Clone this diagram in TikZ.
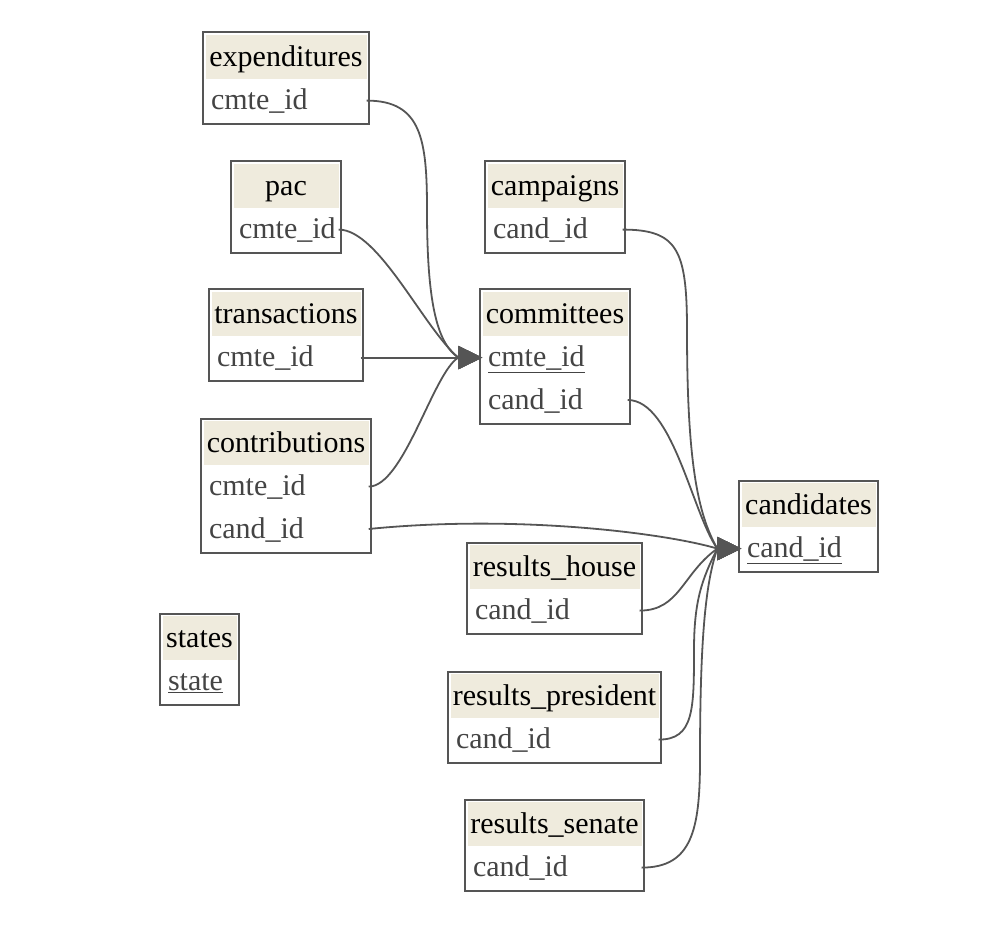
\documentclass[tikz,border=0pt]{standalone}
\usepackage{fontspec}
\setmainfont{Liberation Serif}
\usetikzlibrary{arrows.meta,positioning,fit,calc}
\definecolor{hdrbg}{HTML}{EFEBDD}
\definecolor{edgegray}{HTML}{555555}
\definecolor{fldtext}{HTML}{444444}

% header row of one table: name, left, top, width, title
\newcommand{\dbtable}[5]{%
  \pgfmathsetmacro{\tblw}{#4-5}%
  \pgfmathsetmacro{\fldw}{#4-16}%
  \pgfmathsetmacro{\tblx}{#2+#4/2}%
  \pgfmathsetmacro{\tbly}{#3+2}%
  \node[hdr, minimum width=\tblw pt, anchor=north] (#1) at (\tblx,\tbly) {#5};}

\begin{document}
\begin{tikzpicture}[x=1pt,y=-1pt,
  hdr/.style={fill=hdrbg, text=black, minimum height=44pt, inner sep=0pt,
    text height=24pt, text depth=6pt, font=\fontsize{30}{36}\selectfont},
  fld/.style={text=fldtext, text width=\fldw pt, align=left, minimum height=42pt,
    inner xsep=5.5pt, inner ysep=0pt, text height=24pt, text depth=6pt,
    font=\fontsize{30}{36}\selectfont},
  frame/.style={draw=edgegray, line width=2pt, inner sep=2.5pt},
  fk/.style={draw=edgegray, line width=1.8pt, -{Triangle[length=24pt,width=23pt]}}]
  \useasboundingbox (0,0) rectangle (985,925);

  % tables on the left
  \dbtable{exp}{203}{33}{166}{expenditures}
  \node[fld, below=0pt of exp] (exp-cmte) {cmte\_id};
  \node[frame, fit=(exp)(exp-cmte)] (exp-box) {};

  \dbtable{pac}{231}{162}{110}{pac}
  \node[fld, below=0pt of pac] (pac-cmte) {cmte\_id};
  \node[frame, fit=(pac)(pac-cmte)] (pac-box) {};

  \dbtable{trans}{209}{290}{154}{transactions}
  \node[fld, below=0pt of trans] (trans-cmte) {cmte\_id};
  \node[frame, fit=(trans)(trans-cmte)] (trans-box) {};

  \dbtable{contrib}{201}{419}{170}{contributions}
  \node[fld, below=0pt of contrib] (contrib-cmte) {cmte\_id};
  \node[fld, below=0pt of contrib-cmte] (contrib-cand) {cand\_id};
  \node[frame, fit=(contrib)(contrib-cand)] (contrib-box) {};

  \dbtable{states}{160}{614}{79}{states}
  \node[fld, below=0pt of states] (states-state) {\underline{state}};
  \node[frame, fit=(states)(states-state)] (states-box) {};

  % tables in the middle
  \dbtable{camp}{485}{162}{140}{campaigns}
  \node[fld, below=0pt of camp] (camp-cand) {cand\_id};
  \node[frame, fit=(camp)(camp-cand)] (camp-box) {};

  \dbtable{com}{480}{290}{150}{committees}
  \node[fld, below=0pt of com] (com-cmte) {\underline{cmte\_id}};
  \node[fld, below=0pt of com-cmte] (com-cand) {cand\_id};
  \node[frame, fit=(com)(com-cand)] (com-box) {};

  \dbtable{house}{467}{543}{175}{results\_house}
  \node[fld, below=0pt of house] (house-cand) {cand\_id};
  \node[frame, fit=(house)(house-cand)] (house-box) {};

  \dbtable{pres}{448}{672}{213}{results\_president}
  \node[fld, below=0pt of pres] (pres-cand) {cand\_id};
  \node[frame, fit=(pres)(pres-cand)] (pres-box) {};

  \dbtable{sen}{465}{800}{179}{results\_senate}
  \node[fld, below=0pt of sen] (sen-cand) {cand\_id};
  \node[frame, fit=(sen)(sen-cand)] (sen-box) {};

  % table on the right
  \dbtable{cand}{739}{481}{139}{candidates}
  \node[fld, below=0pt of cand] (cand-cand) {\underline{cand\_id}};
  \node[frame, fit=(cand)(cand-cand)] (cand-box) {};

  % where the references meet, just before the arrow heads
  \coordinate (cmte-in) at ($(com-cmte.west)+(-24,0)$);
  \coordinate (cand-in) at ($(cand-cand.west)+(-24,0)$);

  % references to committees
  \draw[fk] (exp-cmte.east) .. controls +(55,0) and +(0,-70) .. (427,210)
    .. controls +(0,90) and +(-22,-15) .. (cmte-in) -- (com-cmte.west);
  \draw[fk] (pac-cmte.east) .. controls +(40,0) and +(-35,-30) .. (cmte-in) -- (com-cmte.west);
  \draw[fk] (trans-cmte.east) -- (com-cmte.west);
  \draw[fk] (contrib-cmte.east) .. controls +(35,0) and +(-25,15) .. (cmte-in) -- (com-cmte.west);

  % references to candidates
  \draw[fk] (contrib-cand.east) .. controls +(150,-15) and +(-50,-15) .. (cand-in) -- (cand-cand.west);
  \draw[fk] (camp-cand.east) .. controls +(55,0) and +(0,-80) .. (687,330)
    .. controls +(0,130) and +(-20,-35) .. (cand-in) -- (cand-cand.west);
  \draw[fk] (com-cand.east) .. controls +(45,0) and +(-25,-35) .. (cand-in) -- (cand-cand.west);
  \draw[fk] (house-cand.east) .. controls +(40,0) and +(-35,25) .. (cand-in) -- (cand-cand.west);
  \draw[fk] (pres-cand.east) .. controls +(35,0) and +(0,60) .. (694,650)
    .. controls +(0,-50) and +(-15,30) .. (cand-in) -- (cand-cand.west);
  \draw[fk] (sen-cand.east) .. controls +(50,0) and +(0,70) .. (700,760)
    .. controls +(0,-120) and +(-12,35) .. (cand-in) -- (cand-cand.west);
\end{tikzpicture}
\end{document}
